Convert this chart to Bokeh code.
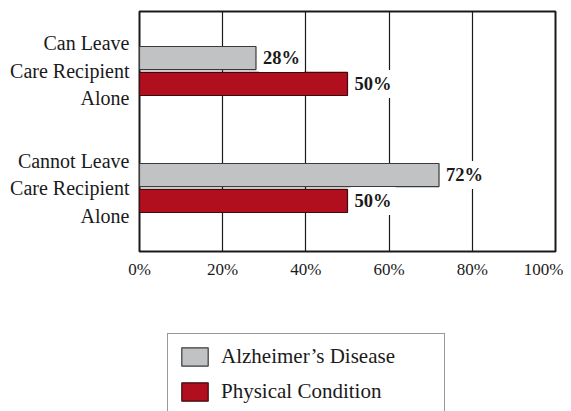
from bokeh.plotting import figure
from bokeh.layouts import column
from bokeh.models import Range1d, FixedTicker, Legend, LegendItem, ColumnDataSource
from bokeh.core.properties import value
from bokeh.embed import file_html
from bokeh.resources import INLINE

# ---- data ----
categories = ["Can Leave\nCare Recipient\nAlone", "Cannot Leave\nCare Recipient\nAlone"]
series_names = ["Alzheimer\u2019s Disease", "Physical Condition"]
alzheimers = [28, 72]
physical = [50, 50]
x_ticks = [0, 20, 40, 60, 80, 100]
x_tick_labels = ["0%", "20%", "40%", "60%", "80%", "100%"]

# ---- style ----
FONT = "Liberation Serif"
GRAY = "#c1c2c4"
RED = "#b10e1e"
GRAY_LINE = "#3a3a3a"
RED_LINE = "#3d0a0e"
bar_h = 0.197
offset = 0.111

idx = list(range(len(categories)))
src_a = ColumnDataSource(dict(y=[i - offset for i in idx], v=alzheimers,
                              lab=[f"{v}%" for v in alzheimers]))
src_p = ColumnDataSource(dict(y=[i + offset for i in idx], v=physical,
                              lab=[f"{v}%" for v in physical]))

p = figure(width=563, height=300, output_backend="svg", toolbar_location=None,
           x_range=Range1d(0, 100), y_range=Range1d(1.5427, -0.5085),
           min_border_left=139, min_border_right=8, min_border_top=11,
           min_border_bottom=49)

p.outline_line_color = "#1a1a1a"
p.outline_line_width = 2
p.background_fill_color = "white"

p.xgrid.ticker = FixedTicker(ticks=x_ticks[1:-1])
p.xgrid.grid_line_color = "#1a1a1a"
p.xgrid.grid_line_width = 1.2
p.ygrid.grid_line_color = None

p.hbar(y="y", right="v", left=0, height=bar_h, source=src_a,
       fill_color=GRAY, line_color=GRAY_LINE, line_width=1.2)
p.hbar(y="y", right="v", left=0, height=bar_h, source=src_p,
       fill_color=RED, line_color=RED_LINE, line_width=1.2)

for src in (src_a, src_p):
    p.text(x="v", y="y", text="lab", source=src, x_offset=3,
           text_font=value(FONT), text_font_size="18.5px", text_font_style="bold",
           text_baseline="middle", text_align="left", text_color="#1a1a1a",
           background_fill_color="white", padding=4)

p.xaxis.ticker = FixedTicker(ticks=x_ticks)
p.xaxis.major_label_overrides = {t: l for t, l in zip(x_ticks, x_tick_labels)}
p.yaxis.ticker = FixedTicker(ticks=idx)
p.yaxis.major_label_overrides = {i: c for i, c in zip(idx, categories)}
for ax in (p.xaxis[0], p.yaxis[0]):
    ax.axis_line_color = None
    ax.major_tick_line_color = None
    ax.minor_tick_line_color = None
    ax.major_tick_out = 0
    ax.major_tick_in = 0
    ax.major_label_text_font = FONT
    ax.major_label_text_color = "#1a1a1a"
p.xaxis.major_label_text_font_size = "17px"
p.xaxis.major_label_standoff = 8
p.yaxis.major_label_text_font_size = "20px"
p.yaxis.major_label_text_line_height = 1.25
p.yaxis.major_label_standoff = 10

# ---- legend figure ----
q = figure(width=563, height=111, output_backend="svg", toolbar_location=None,
           x_range=Range1d(0, 1), y_range=Range1d(0, 1),
           x_axis_location=None, y_axis_location=None,
           min_border_left=0, min_border_right=0, min_border_top=0,
           min_border_bottom=0)
q.outline_line_color = None
q.grid.grid_line_color = None
la = q.hbar(y="y", right="v", left=0, height=bar_h, source=src_a, visible=False,
            fill_color=GRAY, line_color=GRAY_LINE, line_width=1.2)
lp = q.hbar(y="y", right="v", left=0, height=bar_h, source=src_p, visible=False,
            fill_color=RED, line_color=RED_LINE, line_width=1.2)

legend = Legend(items=[LegendItem(label=series_names[0], renderers=[la]),
                       LegendItem(label=series_names[1], renderers=[lp])],
                location=(28, -4), glyph_width=33, glyph_height=23, spacing=10,
                padding=10, label_standoff=10, label_width=213, margin=0,
                border_line_color="#333333", border_line_width=1.5,
                label_text_font=FONT, label_text_font_size="21px",
                label_text_color="#1a1a1a", label_height=23,
                inactive_fill_alpha=0)
q.add_layout(legend)

layout = column(p, q, spacing=0)
open("out.html", "w").write(file_html(layout, INLINE))
